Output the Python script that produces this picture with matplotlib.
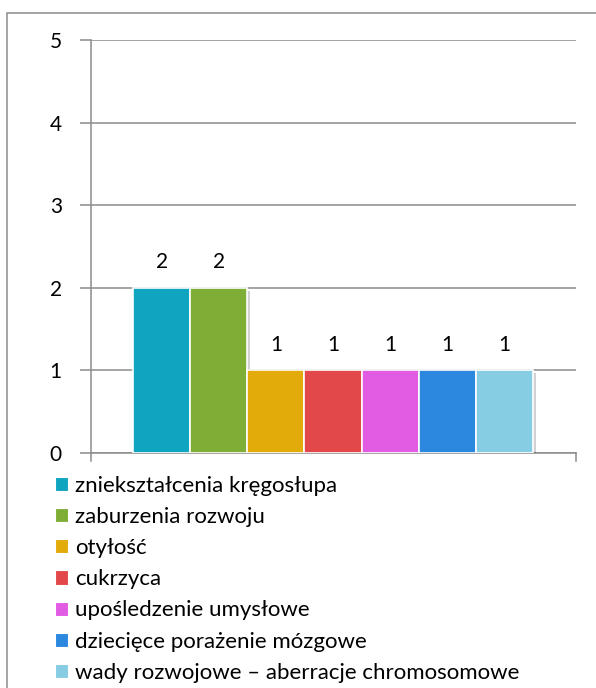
import matplotlib
matplotlib.use("Agg")
import matplotlib.pyplot as plt
import matplotlib.patches as mpatches
import matplotlib.patheffects as pe
import numpy as np

categories = [
    "zniekształcenia kręgosłupa",
    "zaburzenia rozwoju",
    "otyłość",
    "cukrzyca",
    "upośledzenie umysłowe",
    "dziecięce porażenie mózgowe",
    "wady rozwojowe – aberracje chromosomowe",
]
values = [2, 2, 1, 1, 1, 1, 1]
colors = ["#0fa5c0", "#7fae37", "#e2ab09", "#e24849", "#e15be3", "#2c87df", "#86cde3"]
yticks = [0, 1, 2, 3, 4, 5]

plt.rcParams['font.family'] = ['Lato', 'DejaVu Sans']
GRID = '#8c8c8c'
FS = 15
LFS = 16

fig = plt.figure(figsize=(5.96, 6.88), dpi=100)
W, H = 596, 688
ax = fig.add_axes([91 / W, 1 - 453 / H, (576 - 91) / W, (453 - 40) / H])

# outer frame of the chart area (runs off right and bottom)
fig.patches.append(mpatches.Rectangle((7 / W, -0.1), 1.2, 1 - 13 / H + 0.1,
                                      transform=fig.transFigure, fill=False,
                                      edgecolor=GRID, linewidth=1.1, zorder=0))

x = np.arange(len(values))
shadow = [pe.SimplePatchShadow(offset=(2, -2), shadow_rgbFace='black', alpha=0.18), pe.Normal()]
bars = ax.bar(x, values, width=1.0, color=colors, edgecolor='white', linewidth=1.2, zorder=3)
for b in bars:
    b.set_path_effects(shadow)

for i, v in enumerate(values):
    ax.text(i, v + 0.31, str(v), ha='center', va='center', fontsize=FS, color='black')

x0, x1 = -0.5 - 42 / 57.1, 6.5 + 43 / 57.1
ax.set_xlim(x0, x1)
ax.set_ylim(0, 5)
ax.set_yticks(yticks)
ax.set_xticks([])
ax.tick_params(axis='y', length=8, width=1.1, color=GRID, labelsize=FS, pad=13)
ax.yaxis.grid(True, color=GRID, linewidth=1.1, zorder=0)
ax.set_axisbelow(True)
for s in ['top', 'right']:
    ax.spines[s].set_visible(False)
for s in ['left', 'bottom']:
    ax.spines[s].set_color(GRID)
    ax.spines[s].set_linewidth(1.1)

# end ticks on the category axis
ax.plot([x0, x0], [0, -0.1], color=GRID, lw=1.1, clip_on=False)
ax.plot([x1, x1], [0, -0.1], color=GRID, lw=1.1, clip_on=False)

handles = [mpatches.Patch(facecolor=c, edgecolor='white', linewidth=0.8) for c in colors]
fig.legend(handles, categories, loc='upper left', bbox_to_anchor=(55 / W, 1 - 476 / H),
           frameon=False, fontsize=LFS, handlelength=0.6, handleheight=0.6,
           handletextpad=0.3, labelspacing=0.5, borderpad=0, borderaxespad=0)

fig.savefig('out.png', dpi=100)
